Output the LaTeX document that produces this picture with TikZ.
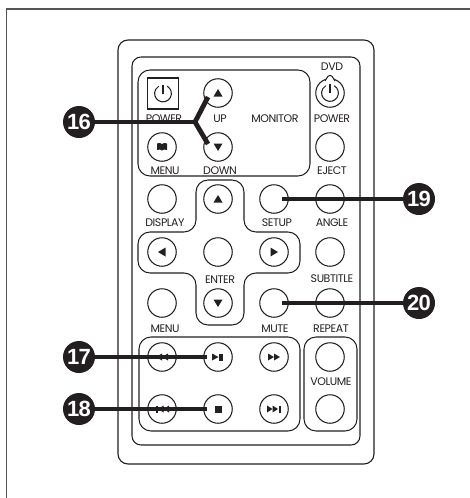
\documentclass[tikz,border=0pt]{standalone}
\usepackage{fontspec}
\setmainfont{Poppins}
\newfontfamily\numfont{Liberation Sans}
\definecolor{ink}{HTML}{231F20}
\definecolor{framegrey}{HTML}{555555}
\tikzset{
  btn/.style={circle,draw=ink,fill=white,line width=1.05pt,minimum size=28.5pt,inner sep=0pt},
  panel/.style={draw=ink,line width=1.05pt,rounded corners=12pt},
  lab/.style={text=ink,font=\fontsize{11}{12}\selectfont\addfontfeatures{LetterSpace=-4},inner sep=0pt},
  callout/.style={circle,fill=ink,text=white,minimum size=32pt,inner sep=0pt,font=\numfont\bfseries\fontsize{22}{22}\selectfont},
  leader/.style={draw=ink,line width=4.8pt},
  icon/.style={fill=ink,draw=none},
  triup/.pic={\fill[icon] (-4.5,3.5) -- (4.5,3.5) -- (0,-4) -- cycle;},
  tridown/.pic={\fill[icon] (-4.5,-3.5) -- (4.5,-3.5) -- (0,4) -- cycle;},
  trileft/.pic={\fill[icon] (3.5,-4.5) -- (3.5,4.5) -- (-4,0) -- cycle;},
  triright/.pic={\fill[icon] (-3.5,-4.5) -- (-3.5,4.5) -- (4,0) -- cycle;},
  powericon/.pic={\draw[ink,line width=1.05pt] (4.2,-7.3) arc[start angle=-60,end angle=240,radius=8.4];
    \draw[ink,line width=1.05pt] (0,-9) -- (0,0);},
  bookicon/.pic={\fill[icon] (-5,-3.5) .. controls (-3,-4.5) and (-1,-4) .. (0,-3) .. controls (1,-4) and (3,-4.5) .. (5,-3.5) -- (5,3) .. controls (3,2.2) and (1,2.5) .. (0,3.5) .. controls (-1,2.5) and (-3,2.2) .. (-5,3) -- cycle;},
  playpause/.pic={\fill[icon] (-6,-3.5) -- (-6,3.5) -- (0.5,0) -- cycle; \fill[icon] (1,-3.5) rectangle (4.5,3.5);},
  stopicon/.pic={\fill[icon] (-3.5,-3.5) rectangle (3.5,3.5);},
  fwdicon/.pic={\fill[icon] (-6,-3.5) -- (-6,3.5) -- (0,0) -- cycle; \fill[icon] (0,-3.5) -- (0,3.5) -- (6,0) -- cycle;},
  rewicon/.pic={\fill[icon] (6,-3.5) -- (6,3.5) -- (0,0) -- cycle; \fill[icon] (0,-3.5) -- (0,3.5) -- (-6,0) -- cycle;},
  nexticon/.pic={\fill[icon] (-7,-3.5) -- (-7,3.5) -- (-1.5,0) -- cycle; \fill[icon] (-1.5,-3.5) -- (-1.5,3.5) -- (4,0) -- cycle; \fill[icon] (4.5,-3.5) rectangle (6.5,3.5);},
  previcon/.pic={\fill[icon] (7,-3.5) -- (7,3.5) -- (1.5,0) -- cycle; \fill[icon] (1.5,-3.5) -- (1.5,3.5) -- (-4,0) -- cycle; \fill[icon] (-4.5,-3.5) rectangle (-6.5,3.5);},
}
\begin{document}
\begin{tikzpicture}[x=1pt,y=-1pt]
\useasboundingbox (0,0) rectangle (470,498);
% page frame: open to the right and at the bottom
\draw[framegrey,line width=1.4pt] (6.5,498) -- (6.5,9) -- (470,9);
% body and panels
\draw[draw=ink,line width=1.1pt,rounded corners=10pt] (118,40) rectangle (374,464);
\draw[panel,rounded corners=9pt] (132,57) rectangle (360,445);
\draw[panel] (138,70) rectangle (310,176);
\draw[panel] (196,232) -- (196,180) -- (244,180) -- (244,232) -- (300,232) -- (300,273) -- (244,273) -- (244,325) -- (196,325) -- (196,273) -- (138,273) -- (138,232) -- cycle;
\draw[panel] (139,337) rectangle (300,431);
\draw[panel] (304,337) rectangle (357,431);
% buttons
\node[draw=ink,line width=1.05pt,minimum size=31pt,inner sep=0pt] (pwr) at (163,93.5) {};
\pic at (pwr.center) {powericon};
\node[btn] (up) at (218,93) {}; \pic at (up) {triup};
\node[btn] (down) at (218,147) {}; \pic at (down) {tridown};
\node[btn] (menua) at (162,147) {}; \pic at (menua) {bookicon};
\node[btn] (dvd) at (330,93) {};
\draw[ink,line width=1.05pt,fill=white] (325,81) .. controls (327,79) and (327,75.5) .. (330,75.5) .. controls (333,75.5) and (333,79) .. (335,81);
\pic at (dvd) {powericon};
\node[btn] (eject) at (330,147) {};
\node[btn] (display) at (162,199) {};
\node[btn] (navup) at (218,199) {}; \pic at (navup) {triup};
\node[btn] (setup) at (274,199) {};
\node[btn] (angle) at (330,199) {};
\node[btn] (navleft) at (162,252) {}; \pic at (navleft) {trileft};
\node[btn] (enter) at (218,252) {};
\node[btn] (navright) at (274,252) {}; \pic at (navright) {triright};
\node[btn] (subt) at (330,252) {};
\node[btn] (menub) at (162,303) {};
\node[btn] (navdown) at (218,303) {}; \pic at (navdown) {tridown};
\node[btn] (mute) at (274,303) {};
\node[btn] (rowb) at (330,303) {};
\node[btn] (rew) at (162,357) {}; \pic at (rew) {rewicon};
\node[btn] (play) at (218,357) {}; \pic at (play) {playpause};
\node[btn] (fwd) at (274,357) {}; \pic at (fwd) {fwdicon};
\node[btn] (volup) at (330,357) {};
\node[btn] (prev) at (162,409) {}; \pic at (prev) {previcon};
\node[btn] (stop) at (218,409) {}; \pic at (stop) {stopicon};
\node[btn] (next) at (274,409) {}; \pic at (next) {nexticon};
\node[btn] (voldn) at (330,409) {};
% labels
\node[lab] (l1) at (164,119) {POWER};
\node[lab] (l2) at (220,119) {UP};
\node[lab] (l3) at (275,119) {MONITOR};
\node[lab] (l4) at (332,119) {POWER};
\node[lab] (l5) at (332,67) {DVD};
\node[lab] (l6) at (165,171) {MENU};
\node[lab] (l7) at (220,171) {DOWN};
\node[lab] (l8) at (332,171) {EJECT};
\node[lab] (l9) at (165,223) {DISPLAY};
\node[lab] (l10) at (277,223) {SETUP};
\node[lab] (l11) at (332,223) {ANGLE};
\node[lab] (l12) at (220,280) {ENTER};
\node[lab] (l13) at (332,279) {SUBTITLE};
\node[lab] (l14) at (165,329) {MENU};
\node[lab] (l15) at (275,329) {MUTE};
\node[lab] (l16) at (331,329) {REPEAT};
\node[lab] (l17) at (331,382) {VOLUME};
% leaders
\coordinate (j16) at (195,122);
\coordinate (e16a) at (208,97);
\coordinate (e16b) at (208,144);
\coordinate (e17) at (207,357);
\coordinate (e18) at (207,409);
\coordinate (e19) at (282,199);
\coordinate (e20) at (282,303);
% callouts
\node[callout] (c16) at (79,122) {\addfontfeatures{LetterSpace=-3}16};
\node[callout] (c17) at (79,357) {\addfontfeatures{LetterSpace=-3}17};
\node[callout] (c18) at (79,409) {\addfontfeatures{LetterSpace=-3}18};
\node[callout] (c19) at (419,199) {\addfontfeatures{LetterSpace=-3}19};
\node[callout] (c20) at (419,303) {\addfontfeatures{LetterSpace=-3}20};
\draw[leader] (e16a) -- (j16) -- (e16b);
\draw[leader] (c16.east) -- (j16);
\draw[leader] (c17.east) -- (e17);
\draw[leader] (c18.east) -- (e18);
\draw[leader] (c19.west) -- (e19);
\draw[leader] (c20.west) -- (e20);
\end{tikzpicture}
\end{document}
